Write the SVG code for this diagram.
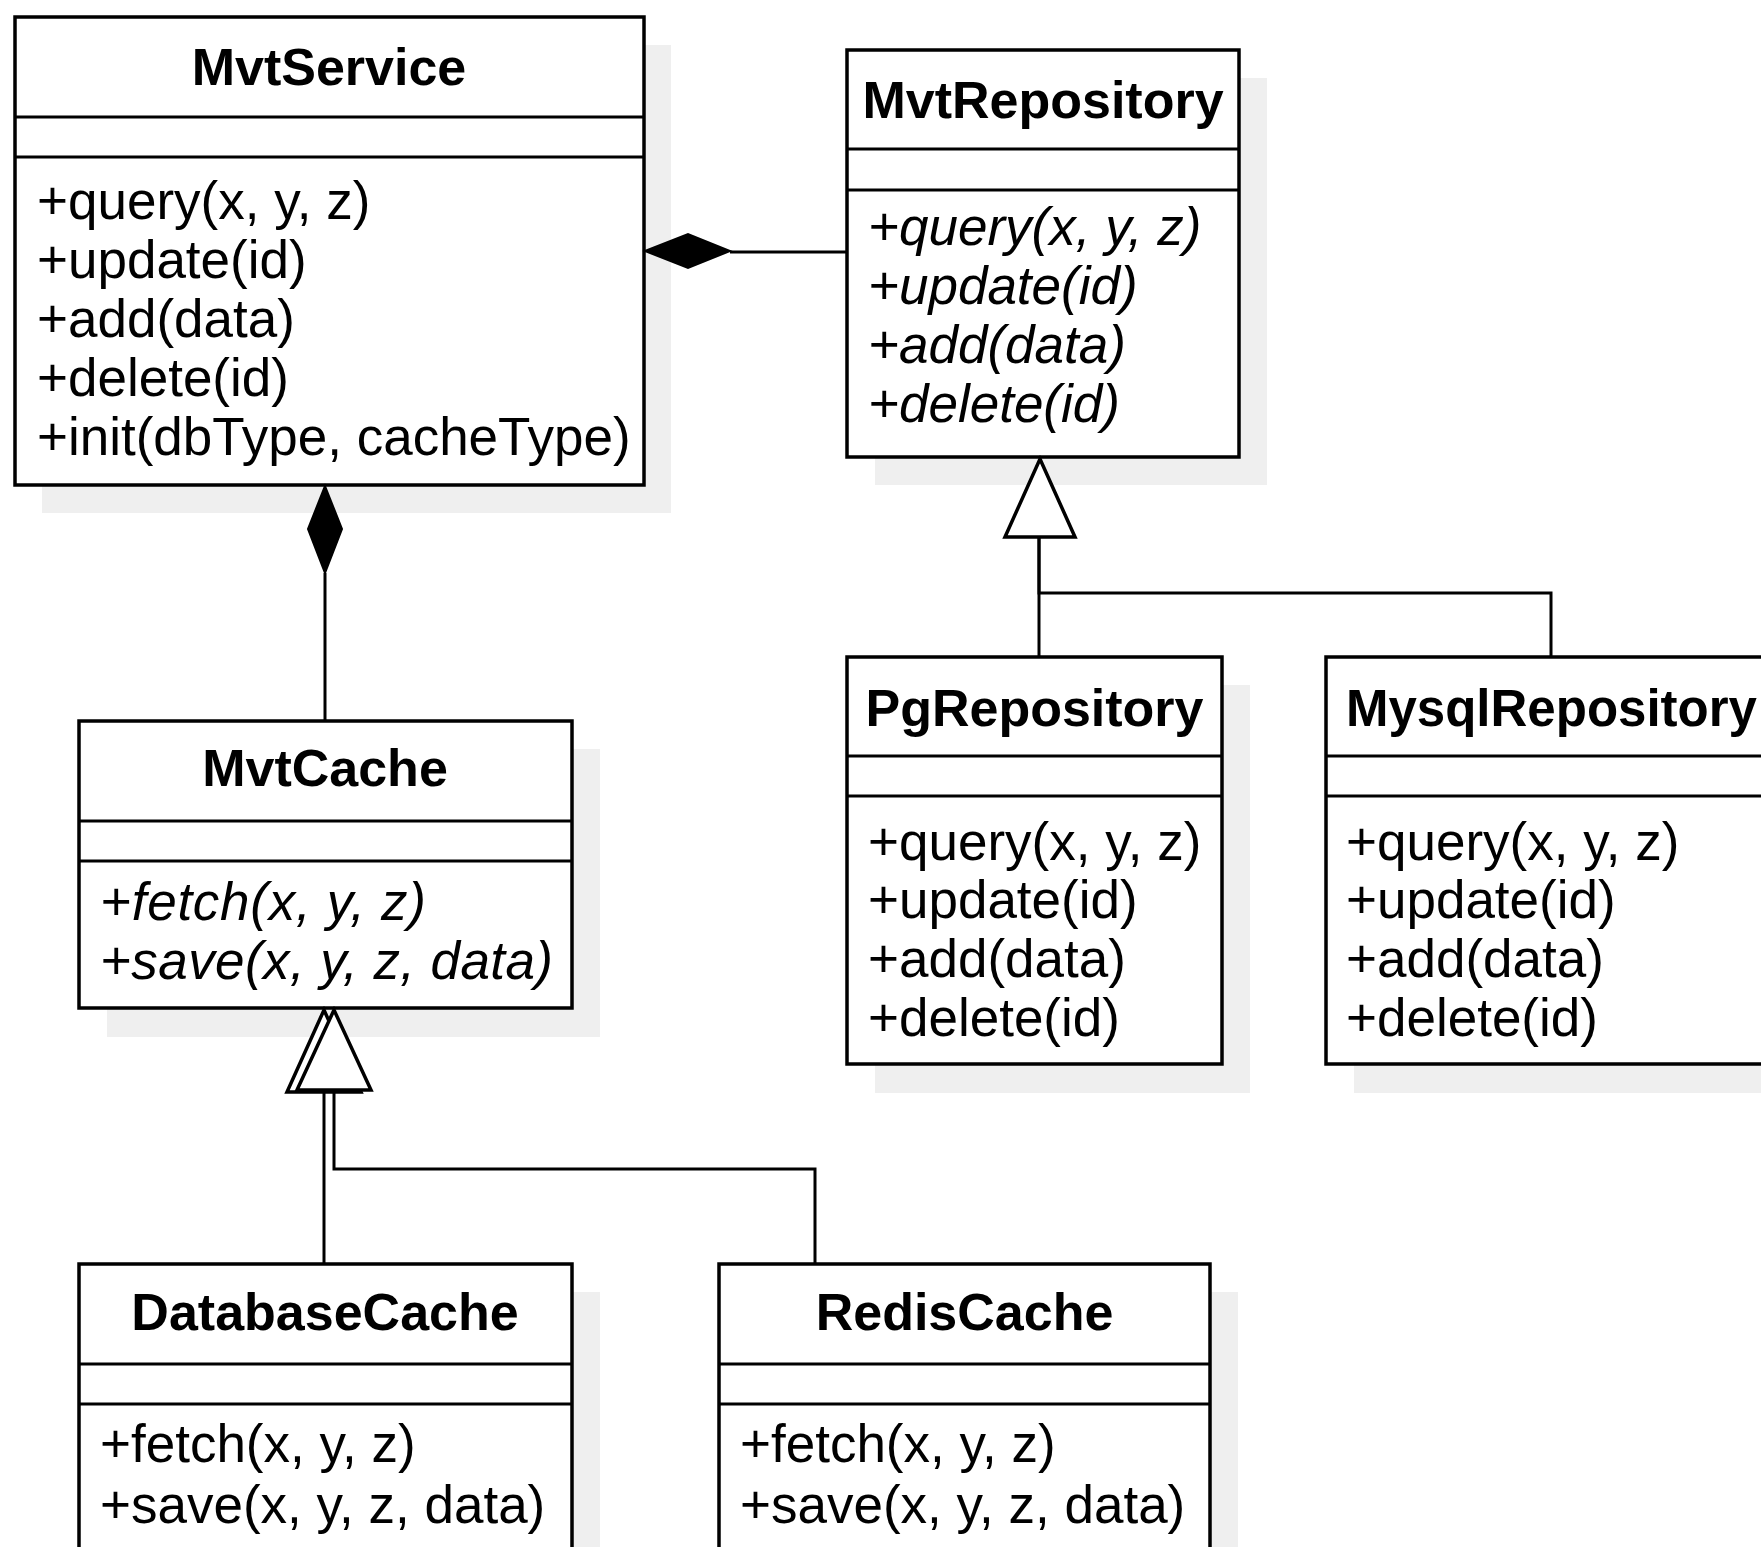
<svg xmlns="http://www.w3.org/2000/svg" width="1761" height="1547" viewBox="0 0 1761 1547">
<style>
  .shadow { fill: #efefef; stroke: none; }
  .box { fill: #ffffff; stroke: #000000; stroke-width: 3.5; }
  .div { stroke: #000000; stroke-width: 3; fill: none; }
  .title { font-family: "Liberation Sans", Arial, sans-serif; font-size: 52px; font-weight: bold; text-anchor: middle; fill: #000; }
  .m { font-family: "Liberation Sans", Arial, sans-serif; font-size: 53px; fill: #000; }
  .i { font-style: italic; }
  .line { stroke: #000000; stroke-width: 3; fill: none; }
  .diamond { fill: #000000; stroke: #000000; stroke-width: 2; }
  .tri { fill: #ffffff; stroke: #000000; stroke-width: 3.5; stroke-linejoin: miter; }
</style>
<rect width="1761" height="1547" fill="#ffffff"/>

<g id="MvtService">
  <rect class="shadow" x="42" y="45" width="629" height="468"/>
  <rect class="box" x="15" y="17" width="629" height="468"/>
  <line class="div" x1="15" y1="117" x2="644" y2="117"/>
  <line class="div" x1="15" y1="157" x2="644" y2="157"/>
  <text class="title" x="329" y="85">MvtService</text>
  <text class="m" x="37" y="219">+query(x, y, z)</text>
  <text class="m" x="37" y="278">+update(id)</text>
  <text class="m" x="37" y="337">+add(data)</text>
  <text class="m" x="37" y="396">+delete(id)</text>
  <text class="m" x="37" y="455">+init(dbType, cacheType)</text>
</g>

<g id="MvtRepository">
  <rect class="shadow" x="875" y="78" width="392" height="407"/>
  <rect class="box" x="847" y="50" width="392" height="407"/>
  <line class="div" x1="847" y1="149" x2="1239" y2="149"/>
  <line class="div" x1="847" y1="190" x2="1239" y2="190"/>
  <text class="title" x="1043" y="118">MvtRepository</text>
  <text class="m i" x="868" y="245">+query(x, y, z)</text>
  <text class="m i" x="868" y="304">+update(id)</text>
  <text class="m i" x="868" y="363">+add(data)</text>
  <text class="m i" x="868" y="422">+delete(id)</text>
</g>

<g id="MvtCache">
  <rect class="shadow" x="107" y="749" width="493" height="288"/>
  <rect class="box" x="79" y="721" width="493" height="287"/>
  <line class="div" x1="79" y1="821" x2="572" y2="821"/>
  <line class="div" x1="79" y1="861" x2="572" y2="861"/>
  <text class="title" x="325" y="786">MvtCache</text>
  <text class="m i" x="100" y="920" textLength="326" lengthAdjust="spacing">+fetch(x, y, z)</text>
  <text class="m i" x="100" y="979" textLength="453" lengthAdjust="spacing">+save(x, y, z, data)</text>
</g>

<g id="PgRepository">
  <rect class="shadow" x="875" y="685" width="375" height="408"/>
  <rect class="box" x="847" y="657" width="375" height="407"/>
  <line class="div" x1="847" y1="756" x2="1222" y2="756"/>
  <line class="div" x1="847" y1="796" x2="1222" y2="796"/>
  <text class="title" x="1034.5" y="726">PgRepository</text>
  <text class="m" x="868" y="860">+query(x, y, z)</text>
  <text class="m" x="868" y="918">+update(id)</text>
  <text class="m" x="868" y="977">+add(data)</text>
  <text class="m" x="868" y="1036">+delete(id)</text>
</g>

<g id="MysqlRepository">
  <rect class="shadow" x="1354" y="685" width="460" height="408"/>
  <rect class="box" x="1326" y="657" width="460" height="407"/>
  <line class="div" x1="1326" y1="756" x2="1786" y2="756"/>
  <line class="div" x1="1326" y1="796" x2="1786" y2="796"/>
  <text class="title" x="1346" y="726" style="text-anchor:start;font-size:51px">MysqlRepository</text>
  <text class="m" x="1346" y="860">+query(x, y, z)</text>
  <text class="m" x="1346" y="918">+update(id)</text>
  <text class="m" x="1346" y="977">+add(data)</text>
  <text class="m" x="1346" y="1036">+delete(id)</text>
</g>

<g id="DatabaseCache">
  <rect class="shadow" x="107" y="1292" width="493" height="320"/>
  <rect class="box" x="79" y="1264" width="493" height="320"/>
  <line class="div" x1="79" y1="1364" x2="572" y2="1364"/>
  <line class="div" x1="79" y1="1404" x2="572" y2="1404"/>
  <text class="title" x="325" y="1330">DatabaseCache</text>
  <text class="m" x="100" y="1462">+fetch(x, y, z)</text>
  <text class="m" x="100" y="1523">+save(x, y, z, data)</text>
</g>

<g id="RedisCache">
  <rect class="shadow" x="747" y="1292" width="491" height="320"/>
  <rect class="box" x="719" y="1264" width="491" height="320"/>
  <line class="div" x1="719" y1="1364" x2="1210" y2="1364"/>
  <line class="div" x1="719" y1="1404" x2="1210" y2="1404"/>
  <text class="title" x="964.5" y="1330">RedisCache</text>
  <text class="m" x="740" y="1462">+fetch(x, y, z)</text>
  <text class="m" x="740" y="1523">+save(x, y, z, data)</text>
</g>

<g id="connectors">
  <line class="line" x1="730" y1="252" x2="847" y2="252"/>
  <polygon class="diamond" points="645,251 688,234 730,251 688,268"/>
  <line class="line" x1="325" y1="573" x2="325" y2="721"/>
  <polygon class="diamond" points="325,486 342,529 325,573 308,529"/>
  <polyline class="line" points="1039,537 1039,657"/>
  <polyline class="line" points="1039,537 1039,593 1551,593 1551,657"/>
  <polygon class="tri" points="1040,459 1075,537 1005,537"/>
  <polyline class="line" points="324,1092 324,1264"/>
  <polyline class="line" points="334,1090 334,1169 815,1169 815,1264"/>
  <polygon class="tri" points="324,1010 361,1092 287,1092"/>
  <polygon class="tri" points="334,1010 371,1090 297,1090"/>
</g>
</svg>
